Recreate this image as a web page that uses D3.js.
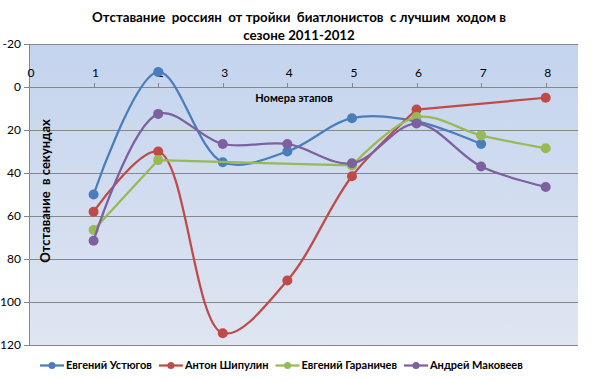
<!DOCTYPE html>
<html><head><meta charset="utf-8">
<script src="https://cdn.jsdelivr.net/npm/d3@7"></script>
<style>body{margin:0;background:#fff}svg{display:block}</style>
</head><body><svg id="c" width="599" height="381"></svg>
<script>
const stages = [1, 2, 3, 4, 5, 6, 7, 8];
const seriesNames = ["Евгений Устюгов", "Антон Шипулин", "Евгений Гараничев", "Андрей Маковеев"];
const ustyugov   = [50, -7, 35, 30, 14.5, 16, 26.5, null];
const shipulin   = [58, 30, 114.5, 90, 41.5, 10.5, null, 5];
const garanichev = [66.5, 34, null, null, 36.5, 14, 22.5, 28.5];
const makoveev   = [71.5, 12.5, 26.5, 26.5, 35.5, 17, 37, 46.5];
const xTicks = [0, 1, 2, 3, 4, 5, 6, 7, 8];
const yTicks = [-20, 0, 20, 40, 60, 80, 100, 120];
const colors = ["#4a7ebb", "#be4b48", "#98b954", "#7d60a0"];
const titleLines = ["Отставание  россиян  от тройки  биатлонистов  с лучшим  ходом в", "сезоне 2011-2012"];
const xTitle = "Номера этапов";
const yTitle = "Отставание  в секундах";

const allSeries = [ustyugov, shipulin, garanichev, makoveev];
const svg = d3.select("#c");
const font = "Lato, 'Open Sans', sans-serif";
const L = 29, R = 578, T = 44, B = 345;
const x = d3.scaleLinear().domain([0, 8.5]).range([L, R]);
const y = d3.scaleLinear().domain([-20, 120]).range([T, B]);

const defs = svg.append("defs");
const g = defs.append("linearGradient").attr("id", "bg").attr("x1", 0).attr("y1", 0).attr("x2", 0).attr("y2", 1);
g.append("stop").attr("offset", 0).attr("stop-color", "#c4d4ee");
g.append("stop").attr("offset", 1).attr("stop-color", "#dfe5f1");
svg.append("rect").attr("x", L).attr("y", T).attr("width", R - L).attr("height", B - T).attr("fill", "url(#bg)");

// gridlines
svg.append("g").selectAll("line").data(yTicks).join("line")
  .attr("x1", L - 5).attr("x2", R).attr("y1", d => y(d) + 0.5).attr("y2", d => y(d) + 0.5)
  .attr("stroke", "#878787").attr("stroke-width", 1);
// y axis line
svg.append("line").attr("x1", L + 0.5).attr("x2", L + 0.5).attr("y1", T).attr("y2", B).attr("stroke", "#878787");
// y tick labels
svg.append("g").selectAll("text").data(yTicks).join("text")
  .attr("x", 21).attr("y", d => y(d)).attr("dy", "0.35em").attr("text-anchor", "end")
  .attr("font-family", font).attr("font-size", 12).attr("fill", "#000").text(d => d);
// x axis at 0
const xAxisY = y(0);
svg.append("g").selectAll("line").data(xTicks).join("line")
  .attr("x1", d => Math.round(x(d)) + 0.5).attr("x2", d => Math.round(x(d)) + 0.5)
  .attr("y1", xAxisY - 4).attr("y2", xAxisY).attr("stroke", "#878787");
svg.append("g").selectAll("text").data(xTicks).join("text")
  .attr("x", d => x(d) + 2).attr("y", xAxisY - 14).attr("dy", "0.35em").attr("text-anchor", "middle")
  .attr("font-family", font).attr("font-size", 12).attr("fill", "#000").text(d => d);

// axis titles
svg.append("text").attr("x", 294).attr("y", 98).attr("dy", "0.35em").attr("text-anchor", "middle")
  .attr("font-family", font).attr("font-size", 11).attr("font-weight", "bold").text(xTitle);
svg.append("text").attr("transform", "translate(45,191) rotate(-90)").attr("dy", "0.35em").attr("text-anchor", "middle")
  .attr("font-family", font).attr("font-size", 13).attr("font-weight", "bold").style("white-space", "pre").text(yTitle);

// title
svg.append("g").selectAll("text").data(titleLines).join("text")
  .attr("x", 299).attr("y", (d, i) => 17 + i * 18).attr("dy", "0.35em").attr("text-anchor", "middle")
  .attr("font-family", font).attr("font-size", 13.3).attr("font-weight", "bold")
  .style("white-space", "pre").text(d => d);

// series: smooth runs of consecutive values, straight links across gaps
const smooth = d3.line().x(d => x(d[0])).y(d => y(d[1])).curve(d3.curveCatmullRom);
const straight = d3.line().x(d => x(d[0])).y(d => y(d[1]));
allSeries.forEach((vals, i) => {
  const all = stages.map((s, j) => [s, vals[j]]);
  const pts = all.filter(d => d[1] != null);
  const runs = [];
  let cur = [];
  all.forEach(d => { if (d[1] == null) { if (cur.length) runs.push(cur); cur = []; } else cur.push(d); });
  if (cur.length) runs.push(cur);
  const gs = svg.append("g").attr("fill", "none").attr("stroke", colors[i]).attr("stroke-width", 2.25)
    .attr("stroke-linejoin", "round").attr("stroke-linecap", "round");
  runs.forEach(r => { if (r.length > 1) gs.append("path").attr("d", smooth(r)); });
  for (let k = 1; k < runs.length; k++) {
    const a = runs[k - 1][runs[k - 1].length - 1], b = runs[k][0];
    gs.append("path").attr("d", straight([a, b]));
  }
  svg.append("g").selectAll("circle").data(pts).join("circle")
    .attr("cx", d => x(d[0])).attr("cy", d => y(d[1])).attr("r", 5).attr("fill", colors[i]);
});

// legend
const leg = svg.append("g");
let cx = 40;
const legY = 365.5;
seriesNames.forEach((n, i) => {
  const it = leg.append("g");
  it.append("line").attr("x1", cx).attr("x2", cx + 24).attr("y1", legY).attr("y2", legY).attr("stroke", colors[i]).attr("stroke-width", 2.25);
  it.append("circle").attr("cx", cx + 12).attr("cy", legY).attr("r", 3.5).attr("fill", colors[i]);
  const t = it.append("text").attr("x", cx + 26).attr("y", legY).attr("dy", "0.35em")
    .attr("font-family", font).attr("font-size", 11).attr("font-weight", "bold").text(n);
  cx += 26 + t.node().getComputedTextLength() + 7;
});
</script></body></html>
